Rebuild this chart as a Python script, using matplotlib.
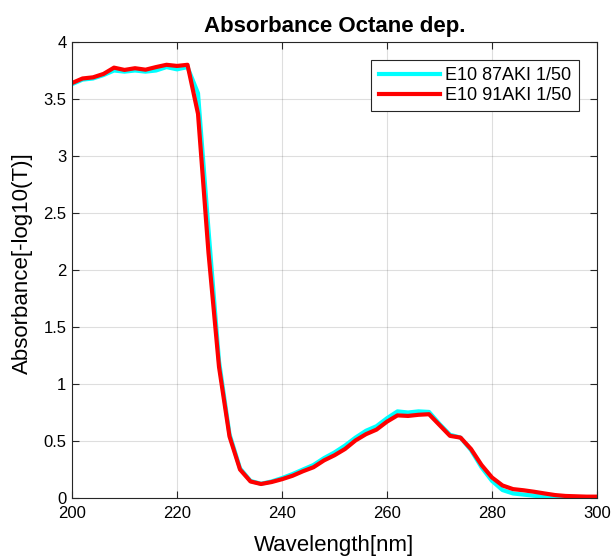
import numpy as np
import matplotlib
matplotlib.use("Agg")
import matplotlib.pyplot as plt

plt.rcParams['font.family'] = ['Liberation Sans', 'DejaVu Sans']

# wavelength grid, 2 nm steps
wavelength = np.arange(200, 301, 2)

# E10 87AKI 1/50
abs_87 = [3.63, 3.67, 3.68, 3.71, 3.75, 3.74, 3.75, 3.74, 3.75, 3.78, 3.76, 3.78,
          3.55, 2.35, 1.20, 0.56, 0.26, 0.15, 0.125, 0.145, 0.175, 0.21, 0.25, 0.29,
          0.35, 0.40, 0.46, 0.53, 0.59, 0.63, 0.70, 0.76, 0.75, 0.76, 0.755, 0.65,
          0.555, 0.53, 0.42, 0.27, 0.15, 0.07, 0.04, 0.03, 0.02, 0.012, 0.006, 0.004,
          0.003, 0.003, 0.003]

# E10 91AKI 1/50
abs_91 = [3.64, 3.68, 3.69, 3.72, 3.775, 3.755, 3.77, 3.757, 3.78, 3.80, 3.79, 3.80,
          3.37, 2.15, 1.15, 0.54, 0.25, 0.145, 0.123, 0.14, 0.165, 0.195, 0.235, 0.27,
          0.33, 0.375, 0.43, 0.505, 0.56, 0.60, 0.67, 0.725, 0.72, 0.73, 0.735, 0.64,
          0.545, 0.53, 0.43, 0.29, 0.18, 0.11, 0.078, 0.068, 0.055, 0.04, 0.026, 0.018,
          0.015, 0.012, 0.012]

fig = plt.figure(figsize=(6.14, 5.57), dpi=100)
ax = fig.add_axes([0.1173, 0.1059, 0.855, 0.8187])

ax.plot(wavelength, abs_87, color=(0, 1, 1), lw=3, label='E10 87AKI 1/50')
ax.plot(wavelength, abs_91, color=(1, 0, 0), lw=3, label='E10 91AKI 1/50')

ax.set_xlim(200, 300)
ax.set_ylim(0, 4)
ax.set_xticks(np.arange(200, 301, 20))
ax.set_yticks(np.arange(0, 4.01, 0.5))
ax.set_yticklabels(['0', '0.5', '1', '1.5', '2', '2.5', '3', '3.5', '4'])
ax.grid(True, color=(0.15, 0.15, 0.15), alpha=0.15, lw=0.8)
ax.tick_params(direction='in', top=True, right=True, labelsize=12, length=5,
               color=(0.15, 0.15, 0.15), labelcolor='black', pad=4)
ax.tick_params(axis='x', pad=6)
for s in ax.spines.values():
    s.set_color((0.15, 0.15, 0.15))
    s.set_linewidth(0.8)

ax.set_xlabel('Wavelength[nm]', fontsize=16, labelpad=10)
ax.set_ylabel('Absorbance[-log10(T)]', fontsize=16)
ax.yaxis.set_label_coords(-0.074, 0.515)
ax.set_title('Absorbance Octane dep.', fontsize=16, fontweight='bold', pad=7)

leg = ax.legend(loc='upper right', fontsize=13, fancybox=False, framealpha=1,
                edgecolor=(0.15, 0.15, 0.15), borderaxespad=1.0, handlelength=3.4,
                handletextpad=0.3, labelspacing=0.15, borderpad=0.4)
leg.get_frame().set_linewidth(0.8)

fig.savefig('out.png', dpi=100)
